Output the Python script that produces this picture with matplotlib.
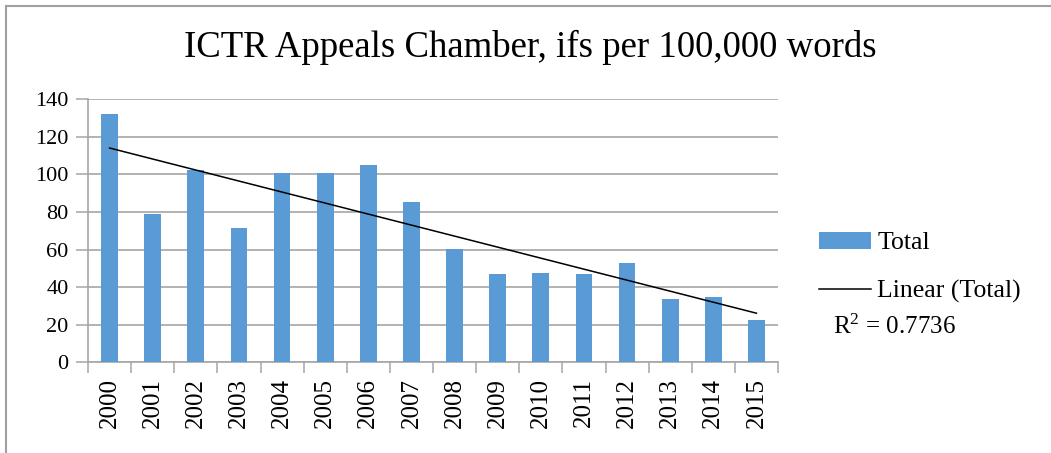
import numpy as np
import matplotlib
matplotlib.use("Agg")
import matplotlib.pyplot as plt
from matplotlib.patches import Patch
from matplotlib.lines import Line2D

years = ["2000", "2001", "2002", "2003", "2004", "2005", "2006", "2007",
         "2008", "2009", "2010", "2011", "2012", "2013", "2014", "2015"]
totals = [132.3, 78.9, 102.5, 71.3, 100.6, 100.6, 105.0, 85.1,
          60.3, 47.0, 47.5, 47.0, 52.7, 33.7, 34.6, 22.5]
yticks = [0, 20, 40, 60, 80, 100, 120, 140]
title = "ICTR Appeals Chamber, ifs per 100,000 words"
r2_label = "R$^2$ = 0.7736"

plt.rcParams['font.family'] = ['Liberation Serif', 'DejaVu Serif']
plt.rcParams['mathtext.fontset'] = 'custom'
plt.rcParams['mathtext.rm'] = 'Liberation Serif'
plt.rcParams['mathtext.it'] = 'Liberation Serif:italic'
plt.rcParams['mathtext.bf'] = 'Liberation Serif:bold'

W, H = 1051, 453
fig = plt.figure(figsize=(W / 100, H / 100), dpi=100)
ax = fig.add_axes([88 / W, 1 - 362.3 / H, (778 - 88) / W, (362.3 - 99.3) / H])

x = np.arange(len(years))
bar_color = "#5B9BD5"
ax.bar(x, totals, width=0.39, color=bar_color, zorder=3)

coef = np.polyfit(x, totals, 1)
trend = np.polyval(coef, x)
ax.plot([x[0], x[-1]], [trend[0], trend[-1]], color="black", lw=1.1, zorder=4)

ax.set_xlim(-0.5, len(years) - 0.5)
ax.set_ylim(0, 140)
ax.set_yticks(yticks)
ax.set_yticklabels([str(v) for v in yticks], fontsize=16)
ax.yaxis.grid(True, color="#A6A6A6", lw=1.2, zorder=0)
ax.set_axisbelow(True)

ax.set_xticks(np.arange(len(years) + 1) - 0.5, minor=False)
ax.set_xticklabels([])
ax.tick_params(axis="x", length=8, color="#A6A6A6", width=1.1, direction="out")
ax.tick_params(axis="y", length=9, color="#A6A6A6", width=1.1, direction="out", pad=5)
for i, yr in enumerate(years):
    ax.text(i, -8.5, yr, rotation=90, ha="center", va="top", fontsize=18)

for s in ["top", "right"]:
    ax.spines[s].set_visible(False)
ax.spines["left"].set_color("#A6A6A6")
ax.spines["bottom"].set_color("#A6A6A6")
ax.spines["left"].set_linewidth(1.2)
ax.spines["bottom"].set_linewidth(1.2)

fig.text(530 / W, 1 - 47 / H, title, ha="center", va="center", fontsize=26.5)

handles = [Patch(facecolor=bar_color, edgecolor="none"),
           Line2D([0], [0], color="black", lw=1.1)]
leg = fig.legend(handles, ["Total", "Linear (Total)"], loc="upper left",
                 bbox_to_anchor=(809 / W, 1 - 222 / H), frameon=False,
                 fontsize=18.5, handlelength=2.0, handleheight=0.6,
                 labelspacing=1.0, handletextpad=0.25, borderaxespad=0)
fig.text(833 / W, 1 - 327 / H, r2_label, ha="left", va="center", fontsize=18)

fig.add_artist(Line2D([6 / W, 6 / W], [0, 1 - 5.5 / H], color="#A0A0A0", lw=1.5,
                      transform=fig.transFigure))
fig.add_artist(Line2D([6 / W, 1], [1 - 5.5 / H, 1 - 5.5 / H], color="#A0A0A0", lw=1.5,
                      transform=fig.transFigure))

fig.savefig("out.png", dpi=100)
